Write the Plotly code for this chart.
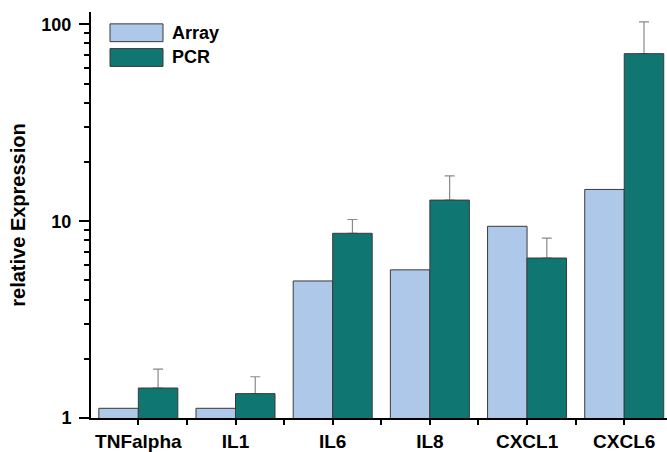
import plotly.graph_objects as go

# Gene panel and measured fold changes
categories = ["TNFalpha", "IL1", "IL6", "IL8", "CXCL1", "CXCL6"]
array_values = [1.12, 1.12, 4.97, 5.66, 9.42, 14.5]
pcr_values = [1.42, 1.33, 8.68, 12.8, 6.50, 71.0]
pcr_errors = [0.35, 0.29, 1.52, 4.2, 1.7, 32.0]

series_names = ["Array", "PCR"]
series_colors = ["#adc8e8", "#0f7671"]

y_tick_values = [1, 10, 100]
y_tick_labels = ["1", "10", "100"]
y_minor_values = [2, 3, 4, 5, 6, 7, 8, 9, 20, 30, 40, 50, 60, 70, 80, 90]

FONT = "Arial, Liberation Sans, sans-serif"
EDGE = "#3a3a3a"
x_pos = list(range(len(categories)))
x_between = [p - 0.5 for p in x_pos] + [len(x_pos) - 0.5]
X_RANGE = [-0.487, 5.44]
Y_RANGE = [0, 2.063]

# Tick lists: labelled ticks at categories / decades, blank ticks in between
x_ticks = sorted(x_pos + x_between)
x_text = [categories[int(v)] if float(v).is_integer() else "" for v in x_ticks]
y_ticks = sorted(y_tick_values + y_minor_values)
y_text = [y_tick_labels[y_tick_values.index(v)] if v in y_tick_values else ""
          for v in y_ticks]

fig = go.Figure()
fig.add_trace(go.Bar(
    x=x_pos, y=array_values, name=series_names[0], offsetgroup="array",
    marker=dict(color=series_colors[0], line=dict(color=EDGE, width=1)),
))
# Upper-only error bars carried by a transparent copy of the PCR bars,
# so the filled PCR bars drawn next hide the lower end of each bar.
fig.add_trace(go.Bar(
    x=x_pos, y=pcr_values, name="PCR error", offsetgroup="pcr",
    marker=dict(color="rgba(0,0,0,0)", line=dict(width=0)),
    error_y=dict(type="data", symmetric=False, array=pcr_errors,
                 arrayminus=[0] * len(pcr_errors),
                 color="#8a8a8a", thickness=1.2, width=5),
    hoverinfo="skip",
))
fig.add_trace(go.Bar(
    x=x_pos, y=pcr_values, name=series_names[1], offsetgroup="pcr",
    marker=dict(color=series_colors[1], line=dict(color=EDGE, width=1)),
))

# Legend drawn as wide swatches with labels
plot_l, plot_r, plot_t, plot_b = 91, 667, 12, 422.5
pw, ph = plot_r - plot_l, plot_b - plot_t


def px_to_paper(x, y):
    return (x - plot_l) / pw, (plot_b - y) / ph


shapes, annotations = [], []
for i, (name, color) in enumerate(zip(series_names, series_colors)):
    top = 24 + i * 25
    x0, y0 = px_to_paper(110, top)
    x1, y1 = px_to_paper(163, top + 18)
    shapes.append(dict(type="rect", xref="paper", yref="paper",
                       x0=x0, x1=x1, y0=y1, y1=y0,
                       fillcolor=color, line=dict(color=EDGE, width=1)))
    tx, ty = px_to_paper(170, top + 9)
    annotations.append(dict(xref="paper", yref="paper", x=tx, y=ty,
                            text=name, showarrow=False, xanchor="left",
                            yanchor="middle",
                            font=dict(family=FONT, size=18, color="black",
                                      weight="bold")))

fig.update_layout(
    width=667, height=452,
    margin=dict(l=plot_l, r=0, t=plot_t, b=452 - plot_b),
    paper_bgcolor="white", plot_bgcolor="white",
    barmode="group", bargap=0.187, bargroupgap=0,
    showlegend=False,
    shapes=shapes, annotations=annotations,
    font=dict(family=FONT, color="black"),
)

fig.update_xaxes(
    range=X_RANGE,
    tickmode="array", tickvals=x_ticks, ticktext=x_text,
    ticks="outside", ticklen=5, tickwidth=1.5, tickcolor="black",
    showline=True, linecolor="black", linewidth=2,
    showgrid=False, zeroline=False,
    tickfont=dict(family=FONT, size=19, color="black", weight="bold"),
)

fig.update_yaxes(
    type="log", range=Y_RANGE,
    tickmode="array", tickvals=y_ticks, ticktext=y_text,
    ticks="outside", ticklen=5, tickwidth=1.5, tickcolor="black",
    ticklabelstandoff=9,
    # longer marks at the decades
    minor=dict(tickmode="array", tickvals=y_tick_values, ticks="outside",
               ticklen=10, tickwidth=1.5, tickcolor="black", showgrid=False),
    showline=True, linecolor="black", linewidth=2,
    showgrid=False, zeroline=False,
    tickfont=dict(family=FONT, size=18, color="black", weight="bold"),
    title=dict(text="relative Expression", standoff=10,
               font=dict(family=FONT, size=20, color="black", weight="bold")),
)

fig.write_html("out.html")
